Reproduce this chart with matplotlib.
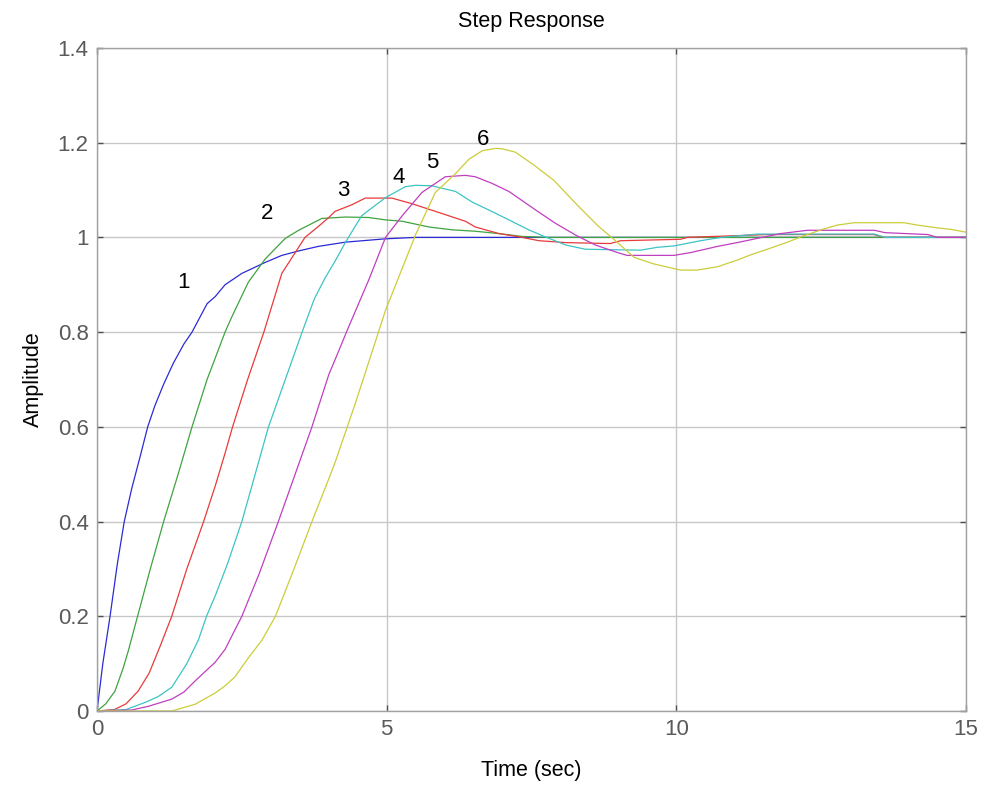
#!/usr/bin/env python3
"""Step response of six systems, MATLAB-style."""
import matplotlib
matplotlib.use("Agg")
import matplotlib.pyplot as plt

# values (time in sec, amplitude)
t1 = [0, 0.1, 0.225, 0.35, 0.47, 0.6, 0.75, 0.875, 1.0, 1.15, 1.32, 1.5, 1.64, 1.9,
      2.04, 2.21, 2.5, 2.9, 3.19, 3.5, 3.82, 4.29, 4.98, 5.5, 15]
y1 = [0, 0.1, 0.2, 0.31, 0.4, 0.47, 0.54, 0.6, 0.645, 0.69, 0.735, 0.775, 0.8, 0.86,
      0.875, 0.9, 0.924, 0.947, 0.962, 0.972, 0.981, 0.99, 0.997, 1.0, 1.0]

t2 = [0, 0.15, 0.31, 0.45, 0.54, 0.7, 0.92, 1.15, 1.4, 1.64, 1.9, 2.04, 2.21, 2.33,
      2.61, 2.9, 3.25, 3.48, 3.88, 4.29, 4.69, 4.98, 5.27, 5.73, 6.13, 6.53, 6.94,
      7.34, 7.8, 15]
y2 = [0, 0.015, 0.042, 0.09, 0.127, 0.2, 0.3, 0.4, 0.5, 0.6, 0.7, 0.745, 0.8, 0.833,
      0.905, 0.954, 0.998, 1.015, 1.04, 1.043, 1.042, 1.037, 1.034, 1.022, 1.016,
      1.013, 1.008, 1.002, 1.0, 1.0]

t3 = [0, 0.3, 0.5, 0.71, 0.9, 1.1, 1.29, 1.55, 1.84, 2.04, 2.2, 2.34, 2.6, 2.88,
      3.19, 3.59, 3.82, 4.0, 4.11, 4.4, 4.63, 5.09, 5.44, 5.84, 6.36, 6.53, 6.94,
      7.34, 7.63, 8.09, 8.86, 9.04, 10.07, 10.19, 10.88, 11.57, 13.41, 13.59, 15]
y3 = [0, 0.003, 0.015, 0.042, 0.08, 0.14, 0.2, 0.3, 0.4, 0.475, 0.54, 0.6, 0.7, 0.8,
      0.924, 1.0, 1.023, 1.042, 1.055, 1.069, 1.083, 1.083, 1.071, 1.055, 1.034,
      1.022, 1.008, 1.0, 0.993, 0.989, 0.987, 0.993, 0.996, 1.0, 1.003, 1.006,
      1.006, 1.0, 1.0]

t4 = [0, 0.5, 0.83, 1.05, 1.29, 1.55, 1.75, 1.89, 2.04, 2.25, 2.5, 2.73, 2.96, 3.25,
      3.54, 3.75, 3.94, 4.11, 4.29, 4.57, 4.98, 5.32, 5.5, 5.78, 6.19, 6.47, 6.76,
      7.11, 7.45, 7.74, 8.09, 8.43, 9.38, 9.67, 9.96, 10.42, 10.77, 11.4, 13.42,
      13.6, 15]
y4 = [0, 0.003, 0.018, 0.03, 0.05, 0.1, 0.15, 0.2, 0.243, 0.31, 0.4, 0.5, 0.6, 0.7,
      0.8, 0.87, 0.915, 0.95, 0.99, 1.046, 1.084, 1.107, 1.11, 1.109, 1.097, 1.075,
      1.058, 1.037, 1.016, 1.001, 0.984, 0.975, 0.973, 0.979, 0.982, 0.993, 1.0,
      1.007, 1.007, 1.0, 1.0]

t5 = [0, 0.6, 0.89, 1.29, 1.5, 1.69, 2.04, 2.21, 2.5, 2.8, 3.13, 3.42, 3.71, 4.0,
      4.11, 4.34, 4.69, 4.98, 5.27, 5.61, 6.01, 6.36, 6.53, 6.82, 7.11, 7.57, 7.91,
      8.26, 8.6, 9.01, 9.15, 9.96, 10.25, 10.71, 11.05, 11.4, 11.8, 12.26, 13.42,
      13.6, 14.34, 14.51, 15]
y5 = [0, 0.002, 0.01, 0.025, 0.04, 0.063, 0.103, 0.13, 0.2, 0.29, 0.4, 0.5, 0.6,
      0.71, 0.742, 0.81, 0.91, 1.0, 1.046, 1.095, 1.128, 1.131, 1.128, 1.114, 1.097,
      1.058, 1.03, 1.005, 0.984, 0.967, 0.962, 0.962, 0.968, 0.981, 0.989, 0.998,
      1.008, 1.015, 1.015, 1.01, 1.006, 1.0, 1.0]

t6 = [0, 1.29, 1.69, 2.04, 2.21, 2.38, 2.6, 2.85, 3.08, 3.4, 3.71, 4.0, 4.11, 4.46,
      4.98, 5.5, 5.84, 6.19, 6.42, 6.65, 6.88, 7.0, 7.22, 7.54, 7.89, 8.26, 8.66,
      8.92, 9.27, 9.61, 10.07, 10.36, 10.71, 11.05, 11.28, 11.57, 11.92, 12.21,
      12.55, 12.78, 13.07, 13.93, 14.16, 14.51, 14.74, 15]
y6 = [0, 0.0, 0.014, 0.038, 0.053, 0.072, 0.11, 0.15, 0.2, 0.3, 0.4, 0.49, 0.525,
      0.65, 0.846, 1.006, 1.095, 1.135, 1.165, 1.183, 1.188, 1.187, 1.18, 1.153,
      1.12, 1.072, 1.023, 0.996, 0.958, 0.944, 0.931, 0.931, 0.938, 0.952, 0.963,
      0.975, 0.99, 1.004, 1.018, 1.026, 1.031, 1.031, 1.026, 1.02, 1.017, 1.011]

curve_labels = ["1", "2", "3", "4", "5", "6"]
label_pos = [(1.49, 0.904), (2.94, 1.05), (4.25, 1.098),
             (5.2, 1.127), (5.79, 1.159), (6.67, 1.207)]

colors = ["#2b2bd6", "#3fa33f", "#e83a3a", "#3cc4c4", "#c03ec0", "#cccc3a"]

plt.rcParams["font.family"] = ["Liberation Sans", "DejaVu Sans"]

fig = plt.figure(figsize=(9.83, 7.85), dpi=100)
ax = fig.add_axes([0.0987, 0.0943, 0.8840, 0.8446])

series = [(t1, y1), (t2, y2), (t3, y3), (t4, y4), (t5, y5), (t6, y6)]
for (t, y), c in zip(series, colors):
    ax.plot(t, y, color=c, lw=0.9)

for txt, (x, y) in zip(curve_labels, label_pos):
    ax.text(x, y, txt, ha="center", va="center", fontsize=16)

ax.set_xlim(0, 15)
ax.set_ylim(0, 1.4)
ax.set_xticks([0, 5, 10, 15])
ax.set_yticks([0, 0.2, 0.4, 0.6, 0.8, 1.0, 1.2, 1.4])
ax.set_yticklabels(["0", "0.2", "0.4", "0.6", "0.8", "1", "1.2", "1.4"])
ax.grid(True, color="#c8c8c8", lw=1.0)
ax.set_axisbelow(True)
for s in ax.spines.values():
    s.set_color("#a0a0a0")
    s.set_linewidth(1.0)
ax.tick_params(direction="in", length=4, width=1, color="#505050",
               top=True, right=True, labelsize=16, labelcolor="#5a5a5a", pad=6)

ax.set_title("Step Response", fontsize=15.5, pad=15)
ax.set_xlabel("Time (sec)", fontsize=15.5, labelpad=14)
ax.set_ylabel("Amplitude", fontsize=15.5, labelpad=10)

fig.savefig("out.png", dpi=100)
